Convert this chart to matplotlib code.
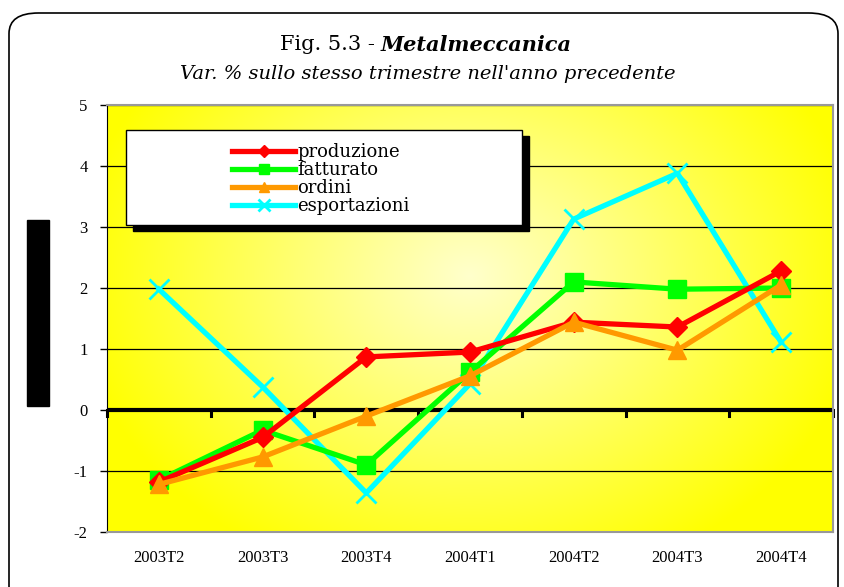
import numpy as np
import matplotlib
matplotlib.use("Agg")
import matplotlib.pyplot as plt
from matplotlib.patches import FancyBboxPatch, Rectangle

# data
quarters = ['2003T2', '2003T3', '2003T4', '2004T1', '2004T2', '2004T3', '2004T4']
produzione = [-1.18, -0.45, 0.87, 0.95, 1.44, 1.36, 2.28]
fatturato = [-1.15, -0.33, -0.90, 0.62, 2.10, 1.98, 2.00]
ordini = [-1.22, -0.77, -0.10, 0.56, 1.44, 0.98, 2.05]
esportazioni = [1.98, 0.38, -1.36, 0.43, 3.13, 3.88, 1.11]
yticks = [-2, -1, 0, 1, 2, 3, 4, 5]

plt.rcParams['font.family'] = ['Liberation Serif', 'DejaVu Serif']
wide = ['DejaVu Serif']

fig = plt.figure(figsize=(8.44, 5.87), dpi=100)
W, H = 844, 587

# outer rounded frame
fig.patches.append(FancyBboxPatch((9 / W, -20 / H), 829 / W, 594 / H,
                                  boxstyle="round,pad=0,rounding_size=0.035",
                                  transform=fig.transFigure, fill=False,
                                  edgecolor='black', linewidth=1.2))

# black bar on the left (masked axis label)
fig.patches.append(Rectangle((27 / W, (H - 406) / H), 22 / W, 186 / H,
                             transform=fig.transFigure, color='black'))

ax = fig.add_axes([107 / W, (H - 532) / H, 726 / W, 427 / H])
x = np.arange(len(quarters))

# yellow gradient background, lighter in the middle
gx, gy = np.meshgrid(np.linspace(0, 1, 300), np.linspace(0, 1, 300))
r = np.sqrt(((gx - 0.5) / 0.55) ** 2 + ((gy - 0.6) / 0.75) ** 2)
r = np.clip(r, 0, 1)
c_in = np.array([1.0, 1.0, 0.80])
c_out = np.array([1.0, 1.0, 0.0])
img = c_in[None, None, :] * (1 - r[..., None]) + c_out[None, None, :] * r[..., None]
ax.imshow(img, extent=[0, 1, 0, 1], transform=ax.transAxes, aspect='auto',
          zorder=0, origin='lower')

ax.set_xlim(-0.5, len(quarters) - 0.5)
ax.set_ylim(-2, 5)
for yv in yticks:
    if yv != 0:
        ax.axhline(yv, color='black', linewidth=0.9, zorder=1)

# thick zero line with category-boundary tick marks
ax.axhline(0, color='black', linewidth=3, zorder=2)
for b in np.arange(len(quarters) + 1) - 0.5:
    ax.plot([b, b], [0, -0.1], color='black', linewidth=2.2, zorder=2,
            clip_on=False)

lw = 3.8
ax.plot(x, produzione, color='#ff0000', lw=lw, marker='D', ms=10,
        label='produzione', zorder=5)
ax.plot(x, fatturato, color='#00ff00', lw=lw, marker='s', ms=13,
        label='fatturato', zorder=4)
ax.plot(x, ordini, color='#ff9900', lw=lw, marker='^', ms=13,
        label='ordini', zorder=6)
ax.plot(x, esportazioni, color='#00ffff', lw=lw, marker='x', ms=14,
        mew=2, label='esportazioni', zorder=3)

ax.set_xticks(x)
ax.set_xticklabels(quarters, fontsize=12)
ax.tick_params(axis='x', length=0, pad=13)
ax.set_yticks(yticks)
ax.set_yticklabels([str(v) for v in yticks], fontsize=12)
ax.tick_params(axis='y', direction='out', length=5, width=1, pad=9)
for s in ['top', 'right', 'bottom']:
    ax.spines[s].set_color('#999999')
    ax.spines[s].set_linewidth(1.5)
ax.spines['left'].set_color('black')

# legend box with black drop shadow
bx0, by0 = 19 / 726, (532 - 225) / 427
bw, bh = (522 - 126) / 726, 95 / 427
ax.add_patch(Rectangle((bx0 + 7 / 726, by0 - 6 / 427), bw, bh,
                       transform=ax.transAxes, color='black', zorder=7))
ax.add_patch(Rectangle((bx0, by0), bw, bh, transform=ax.transAxes,
                       facecolor='white', edgecolor='black', lw=1, zorder=8))
leg = ax.legend(loc='upper left', bbox_to_anchor=(116 / 726, (532 - 134) / 427),
                frameon=False, prop={'family': wide, 'size': 13},
                labelspacing=0, markerscale=0.6,
                handlelength=3.5, handletextpad=0.1, borderpad=0)
leg.set_zorder(9)

# titles
fig.text(381 / W, 1 - 45 / H, 'Fig. 5.3 - ', ha='right', va='center',
         fontsize=15, family=wide)
fig.text(381 / W, 1 - 45 / H, 'Metalmeccanica', ha='left', va='center',
         fontsize=15, fontweight='bold', style='italic', family=wide)
fig.text(428 / W, 1 - 74 / H,
         "Var. % sullo stesso trimestre nell'anno precedente",
         ha='center', va='center', fontsize=14, style='italic', family=wide)

fig.savefig('out.png', dpi=100)
